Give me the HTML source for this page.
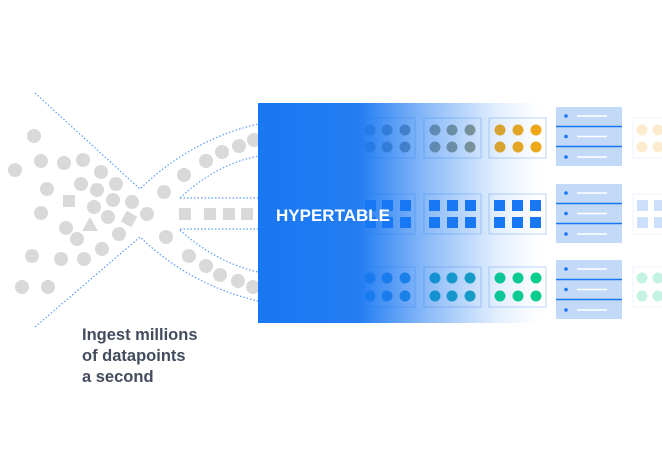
<!DOCTYPE html>
<html><head><meta charset="utf-8"><style>
html,body{margin:0;padding:0;background:#fff;width:662px;height:449px;overflow:hidden}
svg{display:block}
</style></head><body>
<svg width="662" height="449" viewBox="0 0 662 449" xmlns="http://www.w3.org/2000/svg">
<defs>
<linearGradient id="bg" x1="258" y1="0" x2="540" y2="0" gradientUnits="userSpaceOnUse">
<stop offset="0" stop-color="#1877f2" stop-opacity="1"/>
<stop offset="0.36" stop-color="#1877f2" stop-opacity="0.95"/>
<stop offset="0.6" stop-color="#1877f2" stop-opacity="0.5"/>
<stop offset="0.85" stop-color="#1877f2" stop-opacity="0.12"/>
<stop offset="1" stop-color="#1877f2" stop-opacity="0"/>
</linearGradient>
</defs>
<g fill="none" stroke="#5b9cf5" stroke-width="1.2" stroke-dasharray="1.5 2">
<path d="M35 93 L140 189 Q190 140 258 124"/>
<path d="M35 327 L140 237 Q190 285 258 301"/>
<path d="M180 198 Q215 165 258 156"/>
<path d="M180 230 Q215 262 258 272"/>
<path d="M180 198 H258"/>
<path d="M180 229 H258"/>
</g>
<g fill="#d9d9d9">
<circle cx="34" cy="136" r="7"/><circle cx="15" cy="170" r="7"/><circle cx="41" cy="161" r="7"/>
<circle cx="64" cy="163" r="7"/><circle cx="83" cy="160" r="7"/><circle cx="101" cy="172" r="7"/>
<circle cx="47" cy="189" r="7"/><circle cx="81" cy="184" r="7"/><circle cx="97" cy="190" r="7"/>
<circle cx="116" cy="184" r="7"/><rect x="63" y="195" width="12" height="12"/><circle cx="94" cy="207" r="7"/>
<circle cx="113" cy="200" r="7"/><circle cx="132" cy="202" r="7"/><circle cx="41" cy="213" r="7"/>
<circle cx="108" cy="217" r="7"/><rect x="123" y="213" width="12" height="12" transform="rotate(30 129 219)"/>
<circle cx="147" cy="214" r="7"/><polygon points="90,217 98,231 82,231"/>
<circle cx="66" cy="228" r="7"/><circle cx="77" cy="239" r="7"/><circle cx="119" cy="234" r="7"/>
<circle cx="32" cy="256" r="7"/><circle cx="61" cy="259" r="7"/><circle cx="84" cy="259" r="7"/>
<circle cx="102" cy="249" r="7"/><circle cx="22" cy="287" r="7"/><circle cx="48" cy="287" r="7"/>
<circle cx="164" cy="192" r="7"/><circle cx="184" cy="175" r="7"/><circle cx="166" cy="237" r="7"/>
<circle cx="189" cy="256" r="7"/><circle cx="206" cy="266" r="7"/><circle cx="220" cy="275" r="7"/>
<circle cx="238" cy="281" r="7"/><circle cx="253" cy="287" r="7"/>
<circle cx="206" cy="161" r="7"/><circle cx="222" cy="152" r="7"/><circle cx="239" cy="146" r="7"/><circle cx="254" cy="140" r="7"/>
<rect x="179" y="208" width="12" height="12"/><rect x="204" y="208" width="12" height="12"/>
<rect x="223" y="208" width="12" height="12"/><rect x="241" y="208" width="12" height="12"/>
</g>
<g stroke="#c9ddf8" stroke-width="1.2" fill="#fff">
<rect x="363" y="118" width="52" height="40"/><rect x="424" y="118" width="57" height="40"/><rect x="489" y="118" width="57" height="40"/>
<rect x="363" y="194" width="52" height="40"/><rect x="424" y="194" width="57" height="40"/><rect x="489" y="194" width="57" height="40"/>
<rect x="363" y="267" width="52" height="40"/><rect x="424" y="267" width="57" height="40"/><rect x="489" y="267" width="57" height="40"/>
</g>
<g>
<g fill="#8a8f86"><circle cx="370" cy="130" r="5.5"/><circle cx="387" cy="130" r="5.5"/><circle cx="405" cy="130" r="5.5"/><circle cx="370" cy="147" r="5.5"/><circle cx="387" cy="147" r="5.5"/><circle cx="405" cy="147" r="5.5"/></g>
<g fill="#9a9a7a"><circle cx="435" cy="130" r="5.5"/><circle cx="452" cy="130" r="5.5"/><circle cx="470" cy="130" r="5.5"/><circle cx="435" cy="147" r="5.5"/><circle cx="452" cy="147" r="5.5"/><circle cx="470" cy="147" r="5.5"/></g>
<g fill="#f0a818"><circle cx="500" cy="130" r="5.5"/><circle cx="518" cy="130" r="5.5"/><circle cx="536" cy="130" r="5.5"/><circle cx="500" cy="147" r="5.5"/><circle cx="518" cy="147" r="5.5"/><circle cx="536" cy="147" r="5.5"/></g>
<g fill="#1877f2"><rect x="365" y="200" width="11" height="11"/><rect x="382" y="200" width="11" height="11"/><rect x="400" y="200" width="11" height="11"/><rect x="365" y="217" width="11" height="11"/><rect x="382" y="217" width="11" height="11"/><rect x="400" y="217" width="11" height="11"/>
<rect x="429" y="200" width="11" height="11"/><rect x="447" y="200" width="11" height="11"/><rect x="465" y="200" width="11" height="11"/><rect x="429" y="217" width="11" height="11"/><rect x="447" y="217" width="11" height="11"/><rect x="465" y="217" width="11" height="11"/>
<rect x="494" y="200" width="11" height="11"/><rect x="512" y="200" width="11" height="11"/><rect x="530" y="200" width="11" height="11"/><rect x="494" y="217" width="11" height="11"/><rect x="512" y="217" width="11" height="11"/><rect x="530" y="217" width="11" height="11"/></g>
<g fill="#1a8fd6"><circle cx="370" cy="278" r="5.5"/><circle cx="387" cy="278" r="5.5"/><circle cx="405" cy="278" r="5.5"/><circle cx="370" cy="296" r="5.5"/><circle cx="387" cy="296" r="5.5"/><circle cx="405" cy="296" r="5.5"/></g>
<g fill="#12a8b6"><circle cx="435" cy="278" r="5.5"/><circle cx="452" cy="278" r="5.5"/><circle cx="470" cy="278" r="5.5"/><circle cx="435" cy="296" r="5.5"/><circle cx="452" cy="296" r="5.5"/><circle cx="470" cy="296" r="5.5"/></g>
<g fill="#0acf8a"><circle cx="500" cy="278" r="5.5"/><circle cx="518" cy="278" r="5.5"/><circle cx="536" cy="278" r="5.5"/><circle cx="500" cy="296" r="5.5"/><circle cx="518" cy="296" r="5.5"/><circle cx="536" cy="296" r="5.5"/></g>
</g>
<rect x="258" y="103" width="282" height="220" fill="url(#bg)"/>
<text x="276" y="221" font-family="Liberation Sans, sans-serif" font-weight="bold" font-size="17" fill="#fff">HYPERTABLE</text>
<g id="srv">
<rect x="556" y="107" width="66" height="59" fill="#c2d9f7"/>
<line x1="556" y1="126.5" x2="622" y2="126.5" stroke="#1877f2" stroke-width="1.5"/>
<line x1="556" y1="146.5" x2="622" y2="146.5" stroke="#1877f2" stroke-width="1.5"/>
<g fill="#1877f2"><circle cx="566" cy="116" r="1.8"/><circle cx="566" cy="136.5" r="1.8"/><circle cx="566" cy="157" r="1.8"/></g>
<g stroke="#fff" stroke-width="1.5"><line x1="577" y1="116" x2="607" y2="116"/><line x1="577" y1="136.5" x2="607" y2="136.5"/><line x1="577" y1="157" x2="607" y2="157"/></g>
</g>
<use href="#srv" y="77"/>
<use href="#srv" y="153"/>
<g opacity="0.3">
<rect x="633" y="118" width="40" height="40" fill="#fff" stroke="#c9ddf8"/>
<circle cx="642" cy="130" r="5.5" fill="#f8c060"/><circle cx="658" cy="130" r="5.5" fill="#f8c060"/><circle cx="642" cy="147" r="5.5" fill="#f8c060"/><circle cx="658" cy="147" r="5.5" fill="#f8c060"/>
<rect x="633" y="194" width="40" height="40" fill="#fff" stroke="#c9ddf8"/>
<rect x="637" y="200" width="11" height="11" fill="#5a9cf5"/><rect x="654" y="200" width="11" height="11" fill="#5a9cf5"/><rect x="637" y="217" width="11" height="11" fill="#5a9cf5"/><rect x="654" y="217" width="11" height="11" fill="#5a9cf5"/>
<rect x="633" y="267" width="40" height="40" fill="#fff" stroke="#c9ddf8"/>
<circle cx="642" cy="278" r="5.5" fill="#40d8a0"/><circle cx="658" cy="278" r="5.5" fill="#40d8a0"/><circle cx="642" cy="296" r="5.5" fill="#40d8a0"/><circle cx="658" cy="296" r="5.5" fill="#40d8a0"/>
</g>
<g font-family="Liberation Sans, sans-serif" font-weight="bold" font-size="16.5" fill="#434c5e">
<text x="82" y="340">Ingest millions</text>
<text x="82" y="361">of datapoints</text>
<text x="82" y="382">a second</text>
</g>
</svg>
</body></html>
